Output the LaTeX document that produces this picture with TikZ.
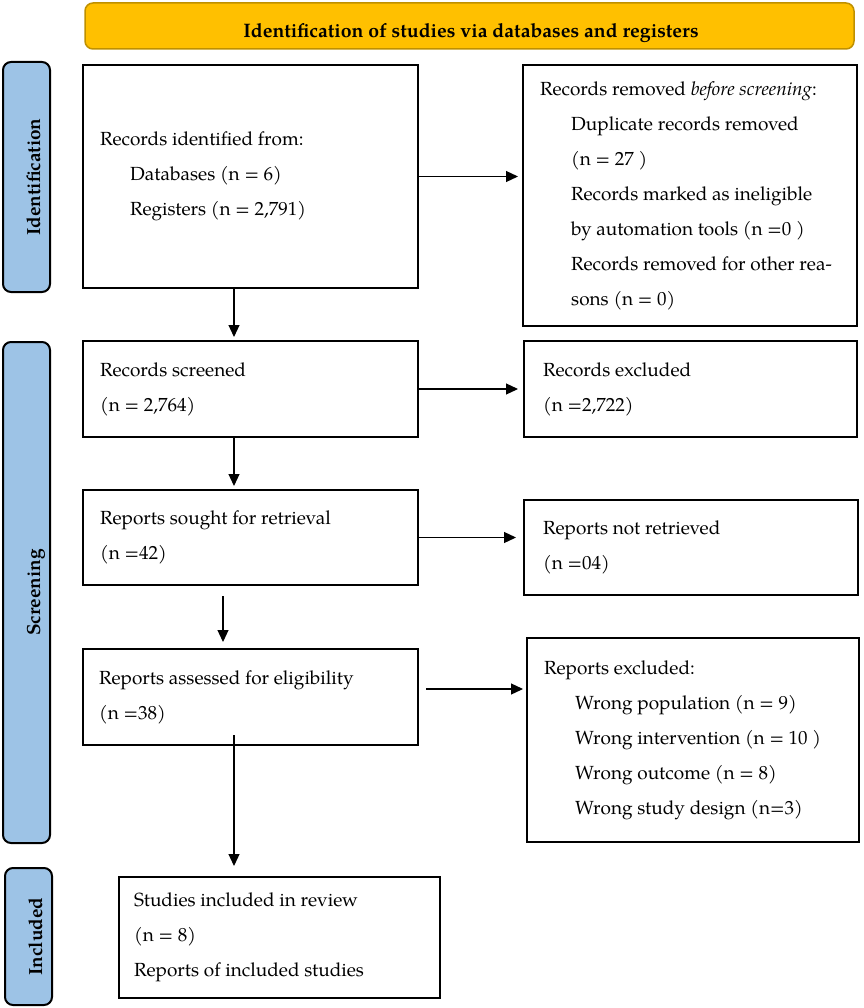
\documentclass[tikz,border=0pt]{standalone}
\usepackage{fontspec}
\setmainfont{TeX Gyre Pagella}
\usetikzlibrary{arrows.meta,calc}
\definecolor{bannerfill}{HTML}{FFC000}
\definecolor{bannerdraw}{HTML}{BF9000}
\definecolor{sidefill}{HTML}{9DC3E6}
\begin{document}
\begin{tikzpicture}[x=1pt,y=-1pt,
  box/.style={draw=black,line width=2pt,rectangle,inner sep=0pt},
  txt/.style={inner sep=0pt,anchor=west,align=left,font=\fontsize{19}{35}\selectfont},
  side/.style={draw=black,line width=2pt,fill=sidefill,rounded corners=8pt,inner sep=0pt,minimum width=47pt},
  sidetxt/.style={inner sep=0pt,rotate=90,anchor=base,font=\bfseries\fontsize{19}{23}\selectfont},
  arr/.style={line width=1.2pt,-{Triangle[length=12pt,width=11pt]}}
]
\useasboundingbox (0,0) rectangle (863,1008);
% banner
\node[draw=bannerdraw,line width=1.5pt,fill=bannerfill,rounded corners=8pt,minimum width=769pt,minimum height=46pt,inner sep=0pt] (banner) at (469.5,26) {};
\node[inner sep=0pt,font=\bfseries\fontsize{19.5}{23}\selectfont] (bannertxt) at (471,33) {Identification of studies via databases and registers};
% side bars
\node[side,minimum height=230pt] (s1) at (26.5,177) {};
\node[side,minimum height=501pt] (s2) at (26.5,592.5) {};
\node[side,minimum height=137pt] (s3) at (28.5,936.5) {};
\node[sidetxt] (s1t) at (40,177) {Identification};
\node[sidetxt] (s2t) at (40,592.5) {Screening};
\node[sidetxt] (s3t) at (42,936.5) {Included};
% boxes
\node[box,minimum width=335pt,minimum height=223pt] (b1) at (250.5,176.5) {};
\node[box,minimum width=334pt,minimum height=261pt] (b2) at (690,195.5) {};
\node[box,minimum width=335pt,minimum height=96pt] (b3) at (250.5,389) {};
\node[box,minimum width=333pt,minimum height=96pt] (b4) at (690.5,389) {};
\node[box,minimum width=335pt,minimum height=95pt] (b5) at (250.5,537.5) {};
\node[box,minimum width=334pt,minimum height=95pt] (b6) at (691,547.5) {};
\node[box,minimum width=335pt,minimum height=96pt] (b7) at (250.5,697) {};
\node[box,minimum width=332pt,minimum height=204pt] (b8) at (693,740) {};
\node[box,minimum width=321pt,minimum height=121pt] (b9) at (279.5,937.5) {};
% texts
\node[txt] (t1) at ($(b1.west)+(18,0)$) {Records identified from:\\\hspace*{30pt}Databases (n = 6)\\\hspace*{30pt}Registers (n = 2,791)};
\node[txt] (t2) at ($(b2.west)+(18,0)$) {Records removed \textit{before screening}:\\\hspace*{31pt}Duplicate records removed\\\hspace*{31pt}(n = 27 )\\\hspace*{31pt}Records marked as ineligible\\\hspace*{31pt}by automation tools (n =0 )\\\hspace*{31pt}Records removed for other rea-\\\hspace*{31pt}sons (n = 0)};
\node[txt] (t3) at ($(b3.west)+(18,0)$) {Records screened\\(n = 2,764)};
\node[txt] (t4) at ($(b4.west)+(20,0)$) {Records excluded\\(n =2,722)};
\node[txt] (t5) at ($(b5.west)+(18,0)$) {Reports sought for retrieval\\(n =42)};
\node[txt] (t6) at ($(b6.west)+(20,0)$) {Reports not retrieved\\(n =04)};
\node[txt] (t7) at ($(b7.west)+(17,0)$) {Reports assessed for eligibility\\(n =38)};
\node[txt] (t8) at ($(b8.west)+(18,0)$) {Reports excluded:\\\hspace*{31pt}Wrong population (n = 9)\\\hspace*{31pt}Wrong intervention (n = 10 )\\\hspace*{31pt}Wrong outcome (n = 8)\\\hspace*{31pt}Wrong study design (n=3)};
\node[txt] (t9) at ($(b9.west)+(16,0)$) {Studies included in review\\(n = 8)\\Reports of included studies};
% connectors
\coordinate (cx1) at (234,0);
\coordinate (cx2) at (223,0);
\coordinate (c7) at (0,689);
\draw[arr,shorten >=4pt] (b1.east) -- (b1.east -| b2.west);
\draw[arr,shorten >=3pt] (b1.south -| cx1) -- (b3.north -| cx1);
\draw[arr,shorten >=5pt] (b3.east) -- (b3.east -| b4.west);
\draw[arr,shorten >=3pt] (b3.south -| cx1) -- (b5.north -| cx1);
\draw[arr,shorten >=7pt] (b5.east) -- (b5.east -| b6.west);
\draw[arr,shorten <=10pt,shorten >=6pt] (b5.south -| cx2) -- (b7.north -| cx2);
\draw[arr,shorten <=7pt,shorten >=3pt] (b7.east |- c7) -- (b8.west |- c7);
\draw[arr,shorten <=-11pt,shorten >=10pt] (b7.south -| cx1) -- (b9.north -| cx1);
\end{tikzpicture}
\end{document}
